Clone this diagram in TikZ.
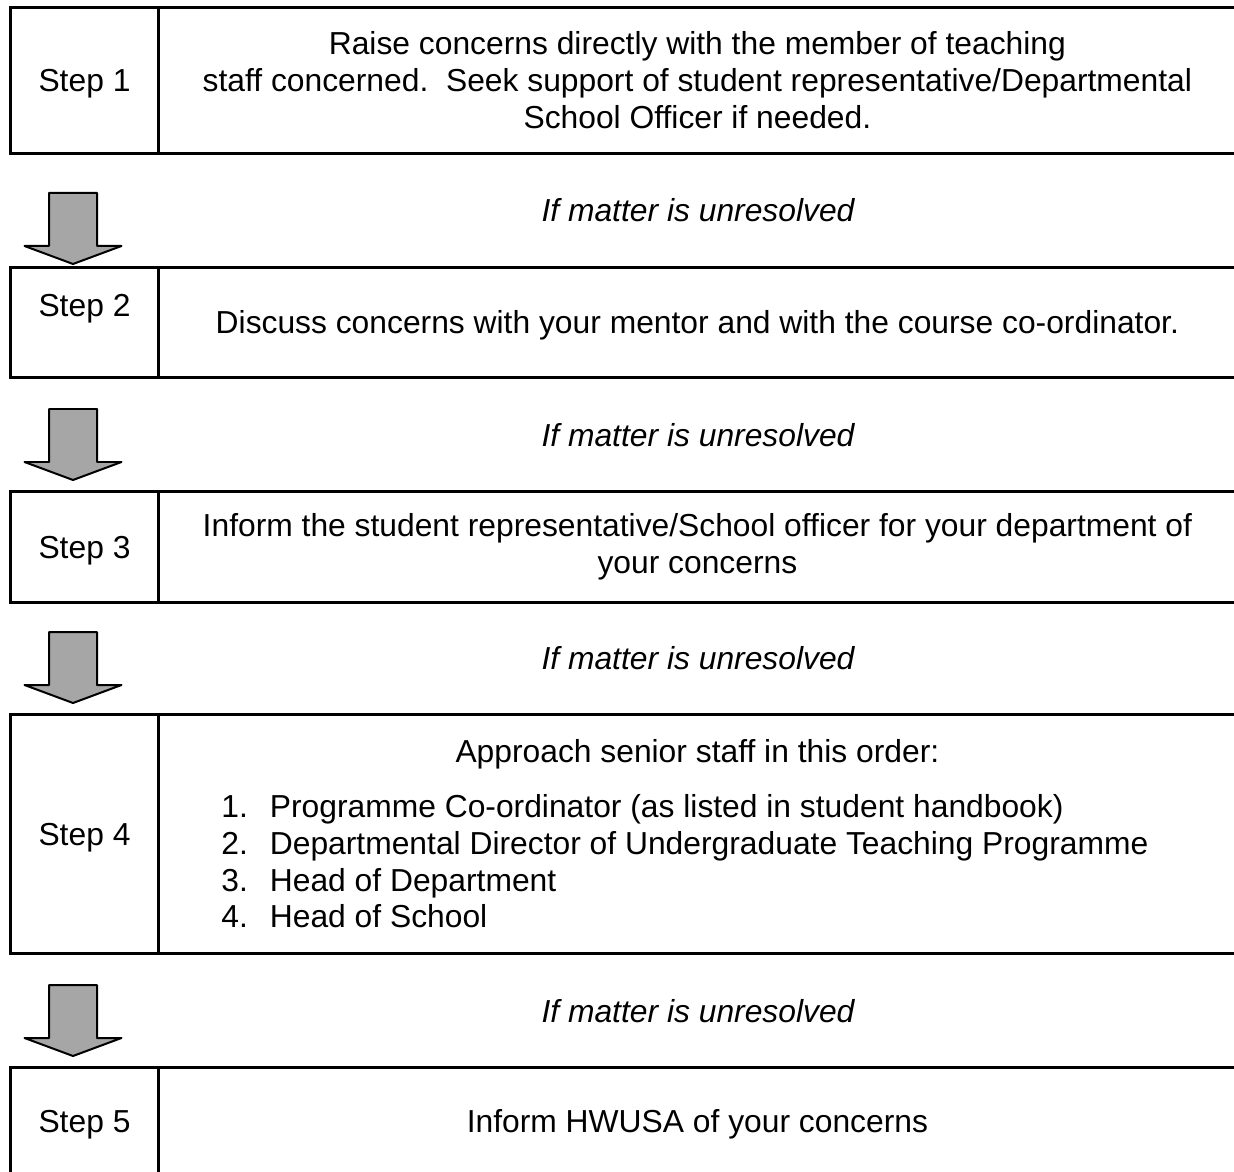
\documentclass[tikz,border=0pt]{standalone}
\usepackage{fontspec}
\setmainfont{Liberation Sans}
\usetikzlibrary{positioning}
\definecolor{arrowgray}{RGB}{166,166,166}

\begin{document}
\begin{tikzpicture}[x=0.02cm,y=-0.02cm,
        stepcell/.style={draw, line width=0.06cm, minimum width=2.98cm, inner sep=0pt,
        outer sep=0pt, font=\fontsize{18.1}{21}\selectfont},
        textcell/.style={draw, line width=0.06cm, minimum width=21.54cm, inner sep=0pt,
        outer sep=0pt, align=center, font=\fontsize{18.1}{21}\selectfont},
        oneline/.style={font=\fontsize{18.1}{21}\selectfont, text height=16.9pt, text depth=4pt},
        unresolved/.style={oneline, font=\fontsize{18.1}{21}\selectfont\itshape},
        blockarrow/.pic={\draw[line width=0.04cm, fill=arrowgray, line join=round]
        (-24,-71) -- (24,-71) -- (24,-18) -- (48.5,-18) -- (0,0) -- (-48.5,-18) -- (-24,-18) -- cycle;}
        ]
        \useasboundingbox (0,0) rectangle (1234,1172);

        \node [stepcell, oneline, minimum height=2.94cm] (s1) at (84.5,80.5) {Step 1};
        \node [textcell, minimum height=2.94cm, right=0pt of s1] (c1)
        {Raise concerns directly with the member of teaching\\
        staff concerned.\ \ Seek support of student representative/Departmental\\
        School Officer if needed.};

        \node [unresolved] (u1) at (698,210) {If matter is unresolved};
        \pic at (73,264) {blockarrow};

        \node [stepcell, minimum height=2.22cm] (s2) at (84.5,322.5) {};
        \node [oneline] (l2) at (84.5,305) {Step 2};
        \node [textcell, oneline, minimum height=2.22cm, right=0pt of s2] (c2)
        {Discuss concerns with your mentor and with the course co-ordinator.};

        \node [unresolved] (u2) at (698,435) {If matter is unresolved};
        \pic at (73,480) {blockarrow};

        \node [stepcell, oneline, minimum height=2.24cm] (s3) at (84.5,547) {Step 3};
        \node [textcell, minimum height=2.24cm, right=0pt of s3] (c3)
        {Inform the student representative/School officer for your department of\\
        your concerns};

        \node [unresolved] (u3) at (698,658) {If matter is unresolved};
        \pic at (73,703) {blockarrow};

        \node [stepcell, oneline, minimum height=4.8cm] (s4) at (84.5,834) {Step 4};
        \node [textcell, minimum height=4.8cm, right=0pt of s4] (c4)
        {\rule{0pt}{19pt}Approach senior staff in this order:\\[0.36cm]
        \hspace*{-0.5cm}\begin{tabular}[t]{@{}l@{\hspace{0.44cm}}l@{}}
        1. & Programme Co-ordinator (as listed in student handbook)\\
        2. & Departmental Director of Undergraduate Teaching Programme\\
        3. & Head of Department\\
        4. & Head of School
        \end{tabular}};

        \node [unresolved] (u4) at (698,1011) {If matter is unresolved};
        \pic at (73,1056) {blockarrow};

        \node [stepcell, oneline, minimum height=2.18cm] (s5) at (84.5,1121.5) {Step 5};
        \node [textcell, oneline, minimum height=2.18cm, right=0pt of s5] (c5)
        {Inform HWUSA of your concerns};
\end{tikzpicture}
\end{document}
